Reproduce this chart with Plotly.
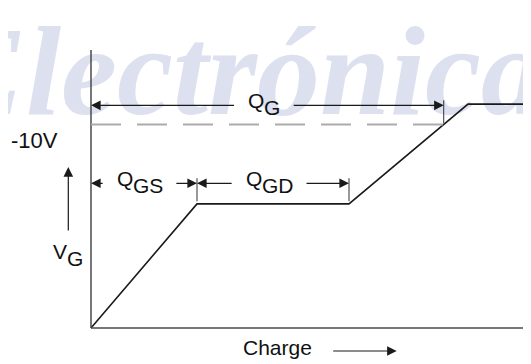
import numpy as np
import plotly.graph_objects as go

# gate charge curve: charge in nC, gate voltage magnitude in V
charge = [0, 10.6, 25.8, 37.7, 44.0]
v_gate = [0, 6.1, 6.1, 11.0, 11.0]
v_drive = 10.0          # the -10V drive level
v_axis_top = 13.66      # where the vertical axis line stops

q_gs = charge[1]
q_gd_end = charge[2]
# total gate charge = where the rising part meets the drive level
q_g = float(np.interp(v_drive, v_gate[2:4], charge[2:4]))

# dimension arrows above the curve
dim_subs = ["G", "GS", "GD"]
dim_start = [0, 0, q_gs]
dim_end = [q_g, q_gs, q_gd_end]
dim_level = [10.94, 7.11, 7.11]

watermark = "Electrónica"

# pixels per unit; the page body adds an 8px margin, so the figure is 8px smaller
PX_X = 10.0
PX_Y = 20.35
W, H = 523, 356
X0_PX, Y0_PX = 83, 320   # where charge=0 / V=0 sit inside the figure
FONT = dict(family="Liberation Sans, Arial", size=21, color="#111111")
# rough Arial advance widths (em) for the label letters
ADV = {"Q": 0.778, "G": 0.778, "S": 0.667, "D": 0.722, "V": 0.667}
INK = "#1a1a1a"


def text_w(s, size=21):
    return sum(ADV[c] for c in s) * size / PX_X


fig = go.Figure()

# faint watermark behind everything
fig.add_trace(go.Scatter(
    x=[15.2], y=[12.05], mode="text", text=[watermark],
    textposition="middle center",
    textfont=dict(family="Liberation Serif", size=126, color="rgb(221,225,239)",
                  style="italic", weight="bold"),
    cliponaxis=False, hoverinfo="skip"))

fig.add_trace(go.Scatter(
    x=charge, y=v_gate, mode="lines",
    line=dict(color=INK, width=1.6), cliponaxis=False, hoverinfo="skip"))

# axis lines
axis_line = dict(color="#4a4a4a", width=1.5)
fig.add_shape(type="line", x0=0, x1=0, y0=0, y1=v_axis_top, line=axis_line)
fig.add_shape(type="line", x0=0, x1=charge[-1], y0=0, y1=0, line=axis_line)

# dashed drive level
fig.add_shape(type="line", x0=0, x1=q_g, y0=v_drive, y1=v_drive,
              line=dict(color="#ababab", width=2, dash="30px,16px"))


def arrow(x0, y0, x1, y1):
    # tail (x0, y0) -> head (x1, y1)
    fig.add_annotation(x=x1, y=y1, ax=x0, ay=y0, xref="x", yref="y",
                       axref="x", ayref="y", text="", showarrow=True,
                       arrowhead=2, arrowsize=1.6, arrowwidth=1.2,
                       arrowcolor=INK, standoff=0, startstandoff=0)


def sub_label(x, y, main, sub, size=21):
    f = dict(FONT, size=size)
    fig.add_annotation(x=x, y=y, text=main, xanchor="right", yanchor="middle",
                       yshift=5, showarrow=False, font=f, borderpad=0, borderwidth=0)
    fig.add_annotation(x=x, y=y, text=sub, xanchor="left", yanchor="middle",
                       yshift=-2, showarrow=False, font=f, borderpad=0, borderwidth=0)


gap = 1.2
for sub, x0, x1, lev in zip(dim_subs, dim_start, dim_end, dim_level):
    mid = (x0 + x1) / 2
    join = mid - 0.8 * (len(sub) - 1) - 0.35
    left = join - text_w("Q")
    right = join + text_w(sub)
    sub_label(join, lev, "Q", sub)
    arrow(left - gap, lev, x0, lev)
    arrow(right + gap, lev, x1, lev)
    fig.add_shape(type="line", x0=x1, x1=x1, y0=lev + 0.25, y1=lev - 0.88,
                  line=dict(color="#333333", width=1))

# y side: -10V and V_G with arrow
fig.add_annotation(x=-5.65, y=9.21, text="-%dV" % v_drive, showarrow=False,
                   xanchor="center", yanchor="middle",
                   font=dict(FONT, size=22), borderpad=0, borderwidth=0)
arrow(-2.27, 4.72, -2.27, 7.91)
sub_label(-2.45, 3.49, "V", "G")

# x side: Charge with arrow
fig.add_annotation(x=18.6, y=-0.98, text="Charge", showarrow=False,
                   xanchor="center", yanchor="middle", font=FONT,
                   borderpad=0, borderwidth=0)
arrow(24.07, -1.13, 30.57, -1.13)

fig.update_layout(
    width=W, height=H,
    margin=dict(l=0, r=0, t=0, b=0),
    paper_bgcolor="white", plot_bgcolor="white",
    showlegend=False,
    xaxis=dict(visible=False, range=[-X0_PX / PX_X, (W - X0_PX) / PX_X], fixedrange=True),
    yaxis=dict(visible=False, range=[-(H - Y0_PX) / PX_Y, Y0_PX / PX_Y], fixedrange=True),
)

fig.write_html("out.html")
